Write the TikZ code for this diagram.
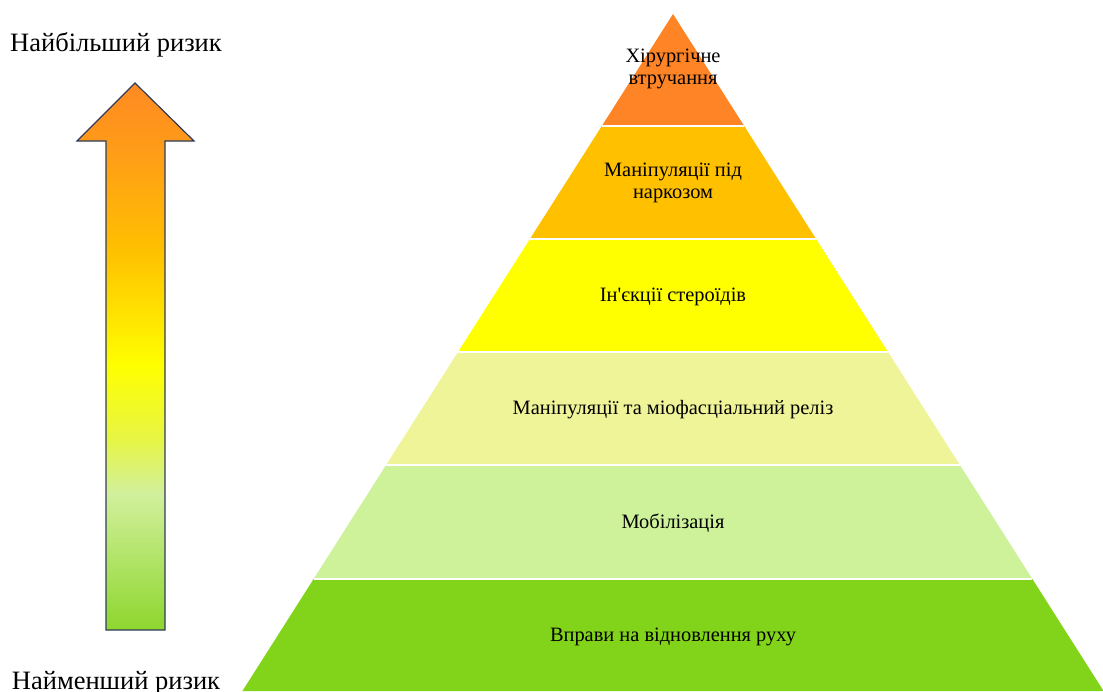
\documentclass[tikz,border=0pt]{standalone}
\usepackage{fontspec}
\setmainfont{Liberation Serif}[Ligatures=TeXOff]
\usepackage{tikz}

\definecolor{lvlsurg}{HTML}{FF8426}
\definecolor{lvlanest}{HTML}{FFC000}
\definecolor{lvlster}{HTML}{FFFF00}
\definecolor{lvlmyo}{HTML}{EEF497}
\definecolor{lvlmob}{HTML}{CDF29A}
\definecolor{lvlex}{HTML}{82D41A}
\definecolor{arrline}{HTML}{2F3B5C}
\definecolor{gradlow}{HTML}{8ED62E}
\definecolor{gradpale}{HTML}{D2F09C}
\definecolor{gradlime}{HTML}{E6F545}
\definecolor{gradmid}{HTML}{FF9C18}
\definecolor{gradtop}{HTML}{FF8A22}

\pgfdeclareverticalshading{riskgrad}{100bp}{color(0bp)=(gradlow); color(25bp)=(gradlow); color(37.5bp)=(gradpale); color(42.4bp)=(gradlime); color(49.2bp)=(lvlster); color(59.7bp)=(lvlanest); color(68.9bp)=(gradmid); color(75bp)=(gradtop); color(100bp)=(gradtop)}

\begin{document}
\begin{tikzpicture}[
  x=1pt, y=-1pt,
  lvl/.style={align=center, font=\fontsize{20.4}{22}\selectfont, text=black},
  side/.style={font=\fontsize{26.5}{30}\selectfont, text=black},
  gap/.style={draw=white, line width=2pt}
]
\useasboundingbox (0,0) rectangle (1103,691);

% pyramid
\fill[lvlsurg] (673,14) -- (744.2,126) -- (601.8,126) -- cycle;
\fill[lvlanest] (601.8,126) -- (744.2,126) -- (816.1,239) -- (529.9,239) -- cycle;
\fill[lvlster] (529.9,239) -- (816.1,239) -- (888,352) -- (458,352) -- cycle;
\fill[lvlmyo] (458,352) -- (888,352) -- (959.9,465) -- (386.1,465) -- cycle;
\fill[lvlmob] (386.1,465) -- (959.9,465) -- (1032.4,579) -- (313.6,579) -- cycle;
\fill[lvlex] (313.6,579) -- (1032.4,579) -- (1103.6,691) -- (242.4,691) -- cycle;

\draw[gap] (601.8,126) -- (744.2,126);
\draw[gap] (529.9,239) -- (816.1,239);
\draw[gap] (458,352) -- (888,352);
\draw[gap] (386.1,465) -- (959.9,465);
\draw[gap] (313.6,579) -- (1032.4,579);

\node[lvl] (surgery) at (673,69) {Хірургічне\\втручання};
\node[lvl] (anaesth) at (673,183) {Маніпуляції під\\наркозом};
\node[lvl] (steroid) at (673,297) {Ін'єкції стероїдів};
\node[lvl] (myofasc) at (673,410) {Маніпуляції та міофасціальний реліз};
\node[lvl] (mobil) at (673,523) {Мобілізація};
\node[lvl] (exercise) at (673,637) {Вправи на відновлення руху};

% risk arrow
\draw[arrline, line width=1.2pt, shading=riskgrad]
  (135,83) -- (194,141) -- (165,141) -- (165,630) -- (106,630)
  -- (106,141) -- (77,141) -- cycle;

\node[side] (maxrisk) at (116,45) {Найбільший ризик};
\node[side] (minrisk) at (116,683) {Найменший ризик};
\end{tikzpicture}
\end{document}
